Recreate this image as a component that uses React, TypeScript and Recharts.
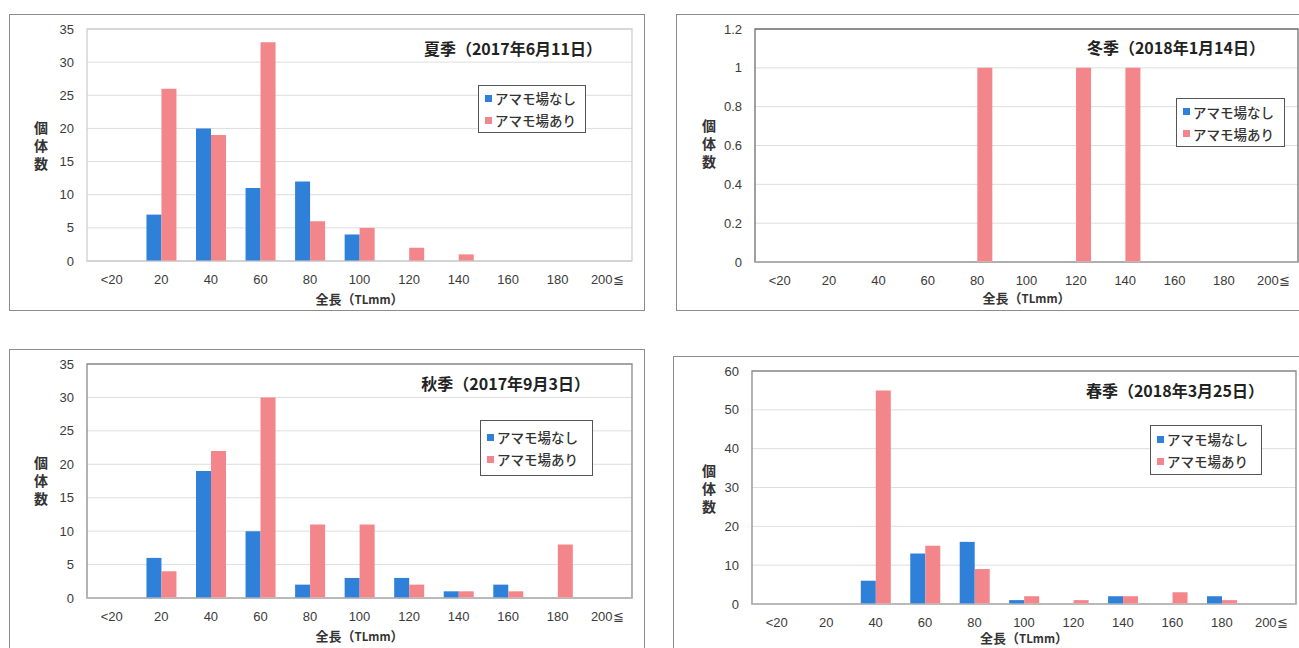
import React from "react";
import { Bar, BarChart, CartesianGrid, Legend, ReferenceArea, XAxis, YAxis } from "recharts";

// size classes (TL mm)
const categories = ["<20", "20", "40", "60", "80", "100", "120", "140", "160", "180", "200≦"];
const seriesNames = ["アマモ場なし", "アマモ場あり"];

const summerNone = [0, 7, 20, 11, 12, 4, 0, 0, 0, 0, 0];
const summerWith = [0, 26, 19, 33, 6, 5, 2, 1, 0, 0, 0];
const winterNone = [0, 0, 0, 0, 0, 0, 0, 0, 0, 0, 0];
const winterWith = [0, 0, 0, 0, 1, 0, 1, 1, 0, 0, 0];
const autumnNone = [0, 6, 19, 10, 2, 3, 3, 1, 2, 0, 0];
const autumnWith = [0, 4, 22, 30, 11, 11, 2, 1, 1, 8, 0];
const springNone = [0, 0, 6, 13, 16, 1, 0, 2, 0, 2, 0];
const springWith = [0, 0, 55, 15, 9, 2, 1, 2, 3, 1, 0];

const ticks35 = [0, 5, 10, 15, 20, 25, 30, 35];
const ticks12 = [0, 0.2, 0.4, 0.6, 0.8, 1, 1.2];
const ticks60 = [0, 10, 20, 30, 40, 50, 60];

const BLUE = "#2f80d8";
const PINK = "#f3868a";
const CJK = "'Noto Sans CJK JP', 'Noto Sans', sans-serif";
const NUM = "'Liberation Sans', Arial, sans-serif";

const toRows = (none: number[], withSeagrass: number[]) =>
  categories.map((name, i) => ({ name, none: none[i], with: withSeagrass[i] }));

interface PanelSpec {
  title: string;
  rows: Array<Record<string, number | string>>;
  ticks: number[];
  left: number;
  top: number;
  width: number;
  height: number;
  plot: { l: number; t: number; r: number; b: number };
  titleRight: number;
  titleTop: number;
  legend: { left: number; top: number; width: number; height: number };
  yLabel: { left: number; top: number };
  xTitleTop: number;
  border: string;
}

const panels: PanelSpec[] = [
  {
    title: "夏季（2017年6月11日）",
    rows: toRows(summerNone, summerWith),
    ticks: ticks35,
    left: 9, top: 14, width: 636, height: 297,
    plot: { l: 78, t: 15, r: 13, b: 50 },
    titleRight: 43, titleTop: 24,
    legend: { left: 469, top: 71, width: 108, height: 48 },
    yLabel: { left: 22, top: 107 },
    xTitleTop: 276,
    border: "#cfcfcf",
  },
  {
    title: "冬季（2018年1月14日）",
    rows: toRows(winterNone, winterWith),
    ticks: ticks12,
    left: 676, top: 14, width: 640, height: 297,
    plot: { l: 79, t: 15, r: 18, b: 49 },
    titleRight: 51, titleTop: 23,
    legend: { left: 500, top: 84, width: 109, height: 49 },
    yLabel: { left: 23, top: 105 },
    xTitleTop: 275,
    border: "#6f6f6f",
  },
  {
    title: "秋季（2017年9月3日）",
    rows: toRows(autumnNone, autumnWith),
    ticks: ticks35,
    left: 9, top: 349, width: 636, height: 320,
    plot: { l: 78, t: 15, r: 13, b: 71 },
    titleRight: 55, titleTop: 24,
    legend: { left: 471, top: 71, width: 113, height: 56 },
    yLabel: { left: 22, top: 107 },
    xTitleTop: 278,
    border: "#8a8a8a",
  },
  {
    title: "春季（2018年3月25日）",
    rows: toRows(springNone, springWith),
    ticks: ticks60,
    left: 673, top: 356, width: 640, height: 320,
    plot: { l: 79, t: 15, r: 17, b: 72 },
    titleRight: 49, titleTop: 24,
    legend: { left: 477, top: 69, width: 112, height: 50 },
    yLabel: { left: 26, top: 108 },
    xTitleTop: 273,
    border: "#8a8a8a",
  },
];

function LegendBox({ payload, box }: any) {
  const items = [...(payload ?? [])].sort(
    (a: any, b: any) => seriesNames.indexOf(a.value) - seriesNames.indexOf(b.value),
  );
  return (
    <div
      style={{
        width: box.width,
        height: box.height,
        boxSizing: "border-box",
        border: "1.5px solid #555",
        background: "#fff",
        display: "flex",
        flexDirection: "column",
        justifyContent: "center",
        padding: "0 6px",
        gap: 4,
      }}
    >
      {items.map((entry: any) => (
        <div key={entry.value} style={{ display: "flex", alignItems: "center", height: 18 }}>
          <span style={{ width: 7, height: 7, background: entry.color, marginRight: 3 }} />
          <span style={{ fontFamily: CJK, fontSize: 13.5, fontWeight: 500, color: "#333" }}>{entry.value}</span>
        </div>
      ))}
    </div>
  );
}

function Panel({ p }: { p: PanelSpec }) {
  const max = p.ticks[p.ticks.length - 1];
  const plotCenter = p.plot.l + (p.width - p.plot.l - p.plot.r) / 2;
  const tickStyle = { fill: "#3a3a3a", fontSize: 13, fontFamily: NUM };
  return (
    <div style={{ position: "absolute", left: p.left, top: p.top, width: p.width, height: p.height }}>
      <div
        style={{
          position: "absolute",
          inset: 0,
          border: "1.5px solid #8c8c8c",
          boxSizing: "border-box",
          background: "#fff",
        }}
      />
      <div style={{ position: "absolute", left: 0, top: 0 }}>
        <BarChart
          width={p.width}
          height={p.height}
          data={p.rows}
          margin={{ top: p.plot.t, right: p.plot.r, left: 0, bottom: 0 }}
          barCategoryGap="20%"
          barGap={0}
        >
          <CartesianGrid stroke="#dedede" vertical={false} />
          <XAxis
            dataKey="name"
            height={p.plot.b}
            interval={0}
            tickLine={false}
            tickSize={0}
            tickMargin={14}
            axisLine={{ stroke: "#cfcfcf" }}
            tick={tickStyle}
          />
          <YAxis
            width={p.plot.l}
            domain={[0, max]}
            ticks={p.ticks}
            interval={0}
            tickLine={false}
            tickSize={0}
            tickMargin={13}
            axisLine={false}
            tick={tickStyle}
          />
          <ReferenceArea
            x1={categories[0]}
            x2={categories[categories.length - 1]}
            y1={0}
            y2={max}
            fill="none"
            stroke={p.border}
            strokeWidth={1.3}
            ifOverflow="visible"
          />
          <Legend
            layout="vertical"
            align="center"
            verticalAlign="middle"
            wrapperStyle={{ left: p.legend.left, top: p.legend.top, width: p.legend.width }}
            content={(props: any) => <LegendBox payload={props.payload} box={p.legend} />}
          />
          <Bar dataKey="none" name={seriesNames[0]} fill={BLUE} isAnimationActive={false} />
          <Bar dataKey="with" name={seriesNames[1]} fill={PINK} isAnimationActive={false} />
        </BarChart>
      </div>
      <div
        style={{
          position: "absolute",
          right: p.titleRight,
          top: p.titleTop,
          lineHeight: "20px",
          whiteSpace: "nowrap",
          fontFamily: CJK,
          fontWeight: 700,
          fontSize: 16,
          color: "#222",
        }}
      >
        {p.title}
      </div>
      <div
        style={{
          position: "absolute",
          left: p.yLabel.left,
          top: p.yLabel.top,
          writingMode: "vertical-rl",
          letterSpacing: 4,
          fontFamily: CJK,
          fontWeight: 700,
          fontSize: 14,
          color: "#333",
        }}
      >
        個体数
      </div>
      <div
        style={{
          position: "absolute",
          left: plotCenter - 60,
          width: 120,
          textAlign: "center",
          top: p.xTitleTop,
          lineHeight: "18px",
          fontFamily: CJK,
          fontWeight: 700,
          fontSize: 13,
          color: "#333",
          whiteSpace: "nowrap",
        }}
      >
        全長（<span style={{ fontSize: 11.5 }}>TLmm</span>）
      </div>
    </div>
  );
}

export default function App() {
  return (
    <div
      style={{
        position: "fixed",
        left: 0,
        top: 0,
        width: 1299,
        height: 648,
        overflow: "hidden",
        background: "#fff",
      }}
    >
      {panels.map((p) => (
        <Panel key={p.title} p={p} />
      ))}
    </div>
  );
}
